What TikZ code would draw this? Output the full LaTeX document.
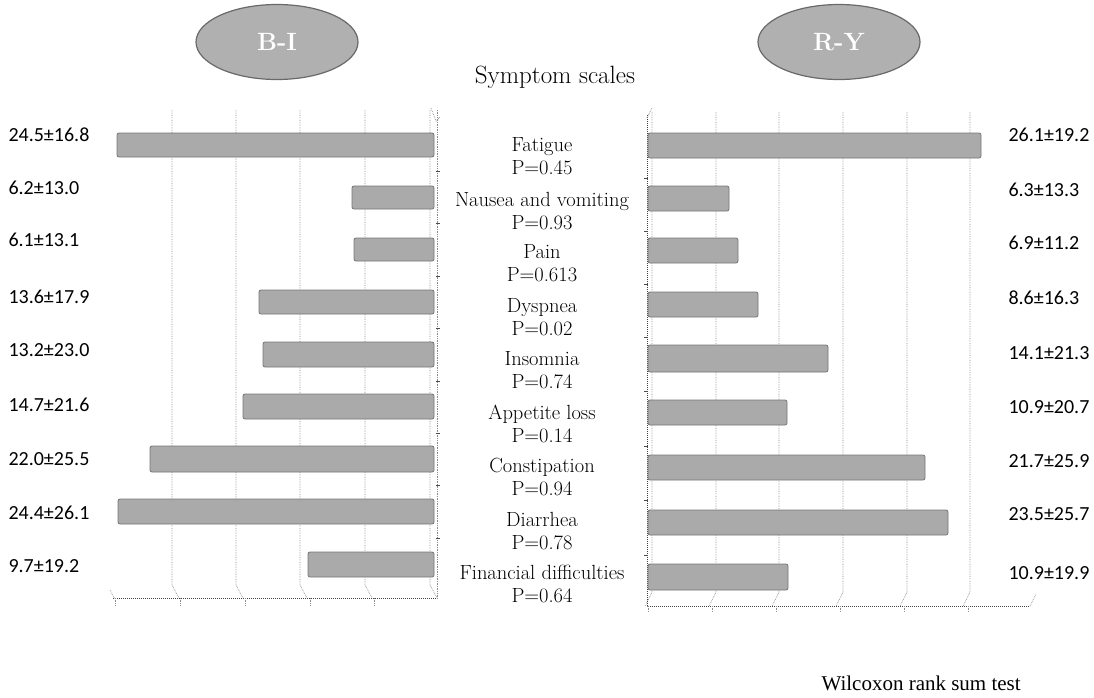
\documentclass[tikz,border=0pt]{standalone}
\usepackage{fontspec}
\newfontfamily\valfont{Carlito}
\newfontfamily\timesfont{Liberation Serif}
\usetikzlibrary{shapes.geometric}
\definecolor{barfill}{RGB}{170,170,170}
\definecolor{baredge}{RGB}{118,118,118}
\definecolor{ellfill}{RGB}{176,176,176}
\definecolor{elledge}{RGB}{105,105,105}
\definecolor{gridc}{RGB}{140,140,140}
\tikzset{
  bar/.style={fill=barfill,draw=baredge,line width=0.8pt,rounded corners=2pt},
  grid line/.style={draw=gridc,densely dotted,line width=0.7pt},
  axis line/.style={draw=black!75,densely dotted,line width=1pt},
  group/.style={ellipse,fill=ellfill,draw=elledge,line width=1.2pt,minimum width=162pt,minimum height=75pt,text=white,font=\fontsize{25}{28}\selectfont\bfseries},
  val/.style={font=\valfont\fontsize{20}{22}\selectfont,anchor=west},
  cat/.style={font=\fontsize{20.5}{23}\selectfont,align=center},
  title/.style={font=\fontsize{25}{28}\selectfont},
  note/.style={font=\timesfont\fontsize{21}{24}\selectfont},
}
\begin{document}
\begin{tikzpicture}[x=1pt,y=-1pt]
\useasboundingbox (0,0) rectangle (1094,697);
% group ellipses
\node[group] (bi) at (277,42) {B-I};
\node[group] (ry) at (839,42) {R-Y};
\node[title] (st) at (555,77) {Symptom scales};
\node[note,anchor=west] (wx) at (818,683) {Wilcoxon rank sum test};
% ---------------- left chart ----------------
\foreach \x in {172,236,300,365,430}{
  \draw[grid line] (\x,110) -- (\x,585) -- (\x+7,598);
}
\draw[grid line] (437,110) -- (437,598);
\draw[grid line] (431,108) -- (436,121) -- (440,117);
\draw[axis line] (113,598) -- (437,598);
\draw[grid line] (110,590) -- (115,599);
\foreach \x in {115,180,245,310,374}{ \draw[grid line] (\x,598) -- (\x,606); }
\foreach \y in {171,223,276,328,381,433,485,538}{ \draw[black!70,line width=0.8pt] (436,\y) -- (440,\y); }
% left bars
\draw[bar] (117,133) rectangle (434,157);
\draw[bar] (352,186) rectangle (434,209);
\draw[bar] (354,238) rectangle (434,261);
\draw[bar] (259,290) rectangle (434,314);
\draw[bar] (263,342) rectangle (434,367);
\draw[bar] (243,394) rectangle (434,419);
\draw[bar] (150,446) rectangle (434,472);
\draw[bar] (118,499) rectangle (434,524);
\draw[bar] (308,552) rectangle (434,577);
% left values
\node[val] (l1) at (5,135) {24.5±16.8};
\node[val] (l2) at (5,188) {6.2±13.0};
\node[val] (l3) at (5,240) {6.1±13.1};
\node[val] (l4) at (5,297) {13.6±17.9};
\node[val] (l5) at (5,350) {13.2±23.0};
\node[val] (l6) at (5,405) {14.7±21.6};
\node[val] (l7) at (5,459) {22.0±25.5};
\node[val] (l8) at (5,513) {24.4±26.1};
\node[val] (l9) at (5,566) {9.7±19.2};
% ---------------- center labels ----------------
\node[cat] (c1) at (542,156) {Fatigue\\P=0.45};
\node[cat] (c2) at (542,211) {Nausea and vomiting\\P=0.93};
\node[cat] (c3) at (542,263) {Pain\\P=0.613};
\node[cat] (c4) at (542,317) {Dyspnea\\P=0.02};
\node[cat] (c5) at (542,370) {Insomnia\\P=0.74};
\node[cat] (c6) at (542,424) {Appetite loss\\P=0.14};
\node[cat] (c7) at (542,477) {Constipation\\P=0.94};
\node[cat] (c8) at (542,531) {Diarrhea\\P=0.78};
\node[cat] (c9) at (542,584) {Financial difficulties\\P=0.64};
% ---------------- right chart ----------------
\foreach \x in {652,716,779,843,907,970}{
  \draw[grid line] (\x,112) -- (\x,592) -- (\x-7,606);
}
\draw[axis line] (647,115) -- (647,606) -- (1030,606);
\draw[grid line] (647,118) -- (652,108);
\draw[grid line] (1030,606) -- (1036,594);
\foreach \x in {648,712,776,840,904,968}{ \draw[grid line] (\x,606) -- (\x,612); }
\foreach \y in {178,231,284,337,391,446,500,555}{ \draw[black!70,line width=0.8pt] (644,\y) -- (648,\y); }
% right bars
\draw[bar] (648,133) rectangle (981,158);
\draw[bar] (648,186) rectangle (729,211);
\draw[bar] (648,238) rectangle (738,263);
\draw[bar] (648,292) rectangle (758,317);
\draw[bar] (648,345) rectangle (828,372);
\draw[bar] (648,400) rectangle (787,425);
\draw[bar] (648,455) rectangle (925,480);
\draw[bar] (648,510) rectangle (948,535);
\draw[bar] (648,564) rectangle (788,590);
% right values
\node[val] (r1) at (1005,135) {26.1±19.2};
\node[val] (r2) at (1005,190) {6.3±13.3};
\node[val] (r3) at (1005,243) {6.9±11.2};
\node[val] (r4) at (1005,298) {8.6±16.3};
\node[val] (r5) at (1005,353) {14.1±21.3};
\node[val] (r6) at (1005,407) {10.9±20.7};
\node[val] (r7) at (1005,461) {21.7±25.9};
\node[val] (r8) at (1005,514) {23.5±25.7};
\node[val] (r9) at (1005,573) {10.9±19.9};
\end{tikzpicture}
\end{document}
